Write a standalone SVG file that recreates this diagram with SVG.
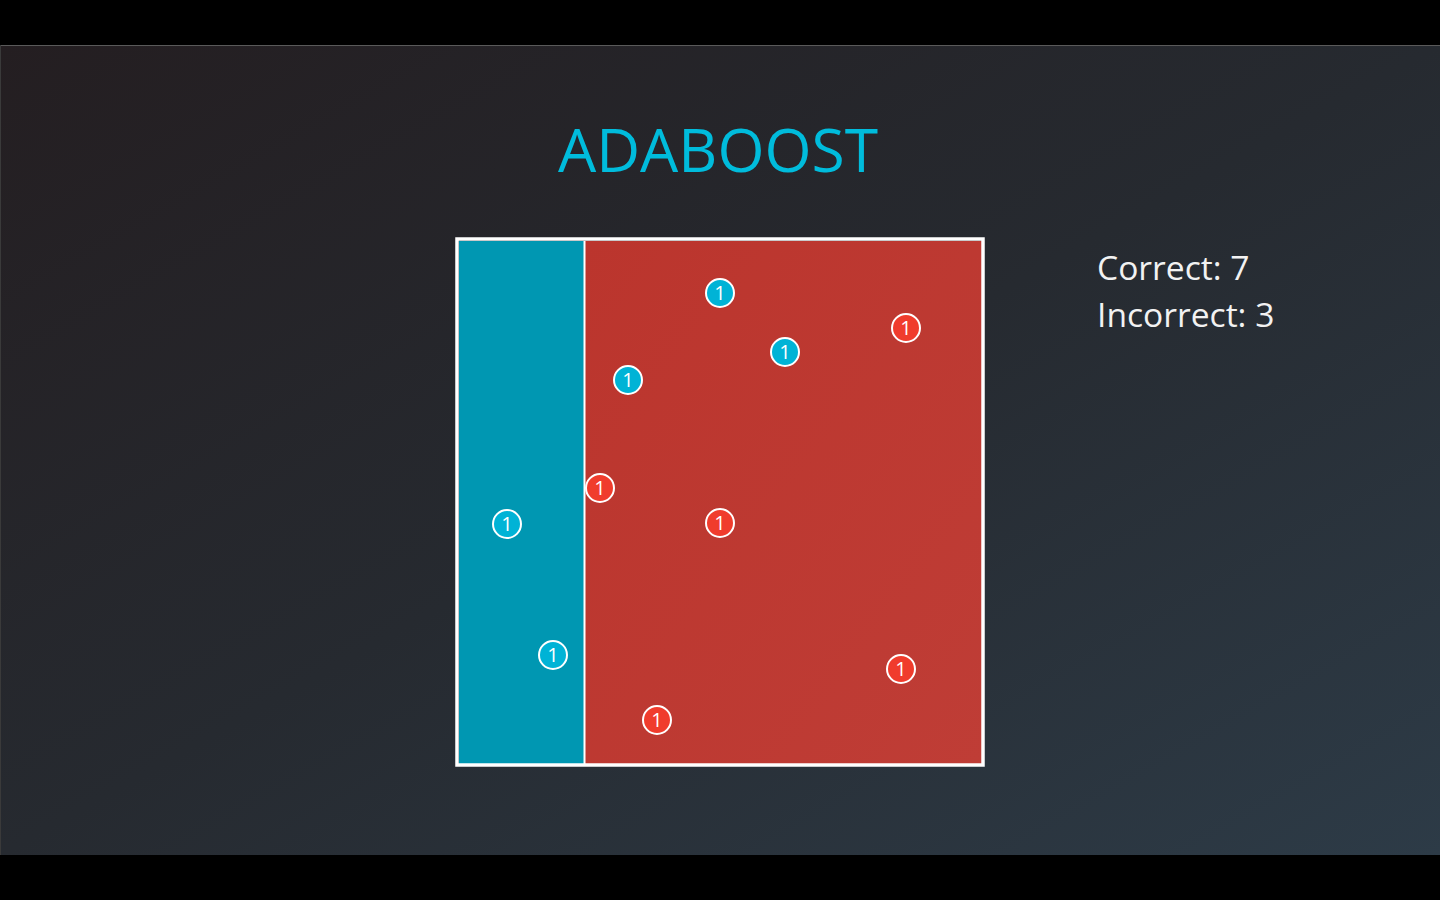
<svg xmlns="http://www.w3.org/2000/svg" width="1440" height="900" viewBox="0 0 1440 900">
  <defs>
    <linearGradient id="bg" x1="0" y1="0" x2="1" y2="1" gradientUnits="objectBoundingBox">
      <stop offset="0" stop-color="#241e21"/>
      <stop offset="0.5" stop-color="#262a30"/>
      <stop offset="1" stop-color="#2d3b47"/>
    </linearGradient>
    <linearGradient id="redFill" x1="0" y1="0" x2="1" y2="1">
      <stop offset="0" stop-color="#bb352d"/>
      <stop offset="1" stop-color="#bf3d36"/>
    </linearGradient>
    <style>
      .pt circle { stroke: #ffffff; stroke-width: 2; }
      .pt.blue circle { fill: #00b3d6; }
      .pt.red circle { fill: #f03c2d; }
      .pt text { font-family: "Open Sans", "Noto Sans", sans-serif; font-size: 20px; fill: #ffffff; text-anchor: middle; }
      .score { font-family: "Open Sans", "Noto Sans", sans-serif; font-size: 33.6px; fill: #f2f2f2; }
    </style>
  </defs>

  <!-- letterbox -->
  <rect x="0" y="0" width="1440" height="900" fill="#000000"/>
  <rect x="0" y="45" width="1440" height="810" fill="url(#bg)"/>
  <line x1="0" y1="45.5" x2="1440" y2="45.5" stroke="#5a5a5a" stroke-width="1"/>
  <line x1="0.5" y1="45" x2="0.5" y2="855" stroke="#3a3a3a" stroke-width="1"/>

  <!-- title -->
  <text x="718" y="172" font-family="'Open Sans', 'Noto Sans', sans-serif" font-size="60.5" fill="#00bcdc" text-anchor="middle">ADABOOST</text>

  <!-- decision regions -->
  <g id="plot">
    <rect x="459" y="241" width="125" height="523" fill="#0097b2"/>
    <rect x="585" y="241" width="397" height="523" fill="url(#redFill)"/>
    <line x1="584.5" y1="241" x2="584.5" y2="764" stroke="#ffffff" stroke-width="2"/>
    <rect x="457" y="239" width="526" height="526" fill="none" stroke="#ffffff" stroke-width="3.5"/>
  </g>

  <!-- weighted points -->
  <g id="p1" class="pt blue"><circle cx="720" cy="293" r="14"/><text x="720" y="300">1</text></g>
  <g id="p2" class="pt blue"><circle cx="785" cy="352" r="14"/><text x="785" y="359">1</text></g>
  <g id="p3" class="pt blue"><circle cx="628" cy="380" r="14"/><text x="628" y="387">1</text></g>
  <g id="p4" class="pt blue"><circle cx="507" cy="524" r="14"/><text x="507" y="531">1</text></g>
  <g id="p5" class="pt blue"><circle cx="553" cy="655" r="14"/><text x="553" y="662">1</text></g>
  <g id="p6" class="pt red"><circle cx="906" cy="328" r="14"/><text x="906" y="335">1</text></g>
  <g id="p7" class="pt red"><circle cx="600" cy="488" r="14"/><text x="600" y="495">1</text></g>
  <g id="p8" class="pt red"><circle cx="720" cy="523" r="14"/><text x="720" y="530">1</text></g>
  <g id="p9" class="pt red"><circle cx="901" cy="669" r="14"/><text x="901" y="676">1</text></g>
  <g id="p10" class="pt red"><circle cx="657" cy="720" r="14"/><text x="657" y="727">1</text></g>

  <!-- tally -->
  <g id="tally">
    <text class="score" x="1097" y="280">Correct: 7</text>
    <text class="score" x="1097" y="327">Incorrect: 3</text>
  </g>
</svg>
